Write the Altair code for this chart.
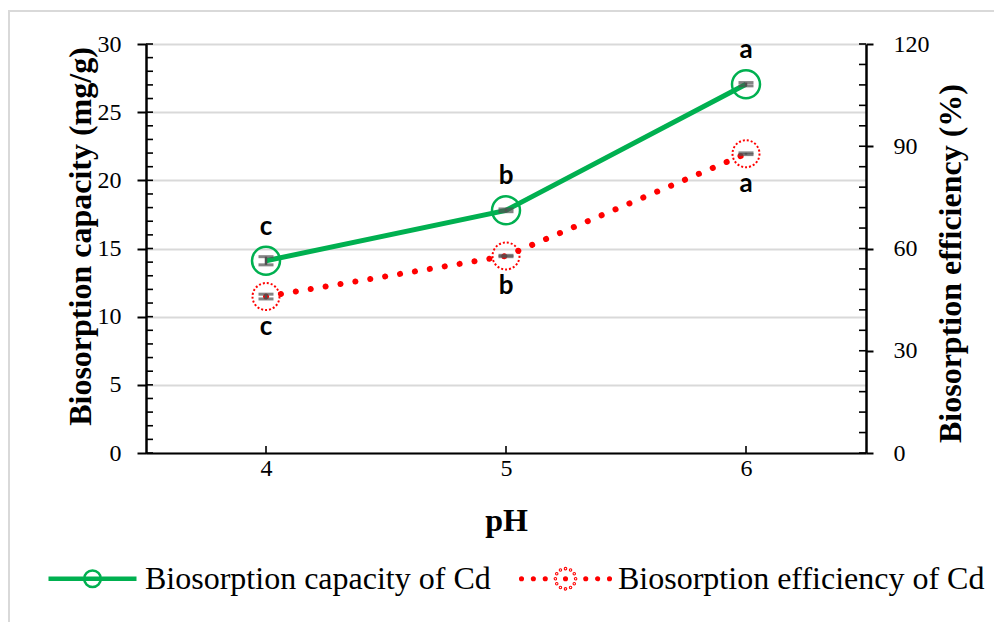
import altair as alt
import pandas as pd
import math

# ---------------- data ----------------
ph = ["4", "5", "6"]
capacity = [14.1, 17.8, 27.05]          # mg/g (left axis)
capacity_err = [0.3, 0.1, 0.12]
efficiency = [45.9, 57.8, 87.8]         # % (right axis)
efficiency_err = [0.7, 0.2, 0.25]
cap_letters = ["c", "b", "a"]
eff_letters = ["c", "b", "a"]
series = ["Biosorption capacity of Cd", "Biosorption efficiency of Cd"]
left_ticks = [0, 5, 10, 15, 20, 25, 30]
right_ticks = [0, 30, 60, 90, 120]
left_minor = list(range(0, 31, 1))
right_minor = list(range(0, 121, 6))

GREEN = "#00b050"
RED = "#ff0000"
GRAY = "#505050"
SERIF = "Liberation Serif"

df = pd.DataFrame({
    "pH": ph,
    "capacity": capacity,
    "cap_lo": [v - e for v, e in zip(capacity, capacity_err)],
    "cap_hi": [v + e for v, e in zip(capacity, capacity_err)],
    "efficiency": efficiency,
    "eff_lo": [v - e for v, e in zip(efficiency, efficiency_err)],
    "eff_hi": [v + e for v, e in zip(efficiency, efficiency_err)],
    "cap_letter": cap_letters,
    "eff_letter": eff_letters,
})
left_minor_df = pd.DataFrame({"v": left_minor})
right_minor_df = pd.DataFrame({"v": right_minor})
legend_df = pd.DataFrame({"series": series})
frame_df = pd.DataFrame({"k": [0]})

# ---------------- legend symbols (style paths) ----------------
def dot(x, y, r):
    return f"M{x + r:.3f},{y:.3f}A{r},{r} 0 1 1 {x - r:.3f},{y:.3f}A{r},{r} 0 1 1 {x + r:.3f},{y:.3f}"

green_path = ("M-1,-0.025H1M-1,0.025H1"
              "M0.19,0A0.19,0.19 0 1 1 -0.19,0A0.19,0.19 0 1 1 0.19,0")
red_parts = [dot(sx * d, 0, 0.03) for d in (0.46, 0.73, 1.0) for sx in (-1, 1)]
red_parts += [dot(0.23 * math.cos(a * math.pi / 6), 0.23 * math.sin(a * math.pi / 6), 0.012)
              for a in range(12)]
red_parts.append(dot(0, 0, 0.03))
red_path = "".join(red_parts)

# ---------------- encodings ----------------
x_axis = alt.Axis(
    ticks=False, domainColor="black", domainWidth=2, grid=False,
    labelFont=SERIF, labelFontSize=24, labelColor="black", labelPadding=3,
    labelAngle=0, title="pH", titleFont=SERIF, titleFontSize=32,
    titleFontWeight="bold", titleColor="black", titleY=67, titleBaseline="middle",
)
x_enc = alt.X("pH:N", scale=alt.Scale(type="point", padding=0.5), axis=x_axis, title="pH")

left_title = "Biosorption capacity (mg/g)"
right_title = "Biosorption efficiency (%)"
left_axis = alt.Axis(
    orient="left", values=left_ticks, tickSize=9, tickWidth=2, tickColor="black",
    domainColor="black", domainWidth=2.5, grid=True, gridColor="#d9d9d9", gridWidth=2,
    labelFont=SERIF, labelFontSize=24, labelColor="black", labelPadding=16,
    title=left_title, titleFont=SERIF, titleFontSize=32, titleFontWeight="bold",
    titleColor="black", titleAngle=270, titleX=-66, titleY=192,
    titleBaseline="middle", titleAlign="center",
)
right_axis = alt.Axis(
    orient="right", values=right_ticks, tickSize=7, tickWidth=2, tickColor="black",
    domainColor="black", domainWidth=2.5, grid=False,
    labelFont=SERIF, labelFontSize=24, labelColor="black", labelPadding=20,
    title=right_title, titleFont=SERIF, titleFontSize=32, titleFontWeight="bold",
    titleColor="black", titleAngle=270, titleX=84, titleY=219,
    titleBaseline="middle", titleAlign="center",
)
lscale = alt.Scale(domain=[0, 30], nice=False, zero=True)
rscale = alt.Scale(domain=[0, 120], nice=False, zero=True)


def ly(field):
    return alt.Y(f"{field}:Q", scale=lscale, axis=left_axis, title=left_title)


def ry(field):
    return alt.Y(f"{field}:Q", scale=rscale, axis=right_axis, title=right_title)


base = alt.Chart(df)

# ---------------- left group ----------------
frame = alt.Chart(frame_df).mark_rect(fillOpacity=0, stroke="#d9d9d9", strokeWidth=2).encode(
    x=alt.value(-137), x2=alt.value(1000), y=alt.value(-33), y2=alt.value(700)
)
left_inner_ticks = alt.Chart(left_minor_df).mark_rule(color="black", strokeWidth=1.6).encode(
    y=ly("v"), x=alt.value(0), x2=alt.value(7)
)
x_inner_ticks = base.mark_rule(color="black", strokeWidth=1.6).encode(
    x=x_enc, y=alt.value(409), y2=alt.value(402)
)
g_line = base.mark_line(color=GREEN, strokeWidth=5).encode(x=x_enc, y=ly("capacity"))
g_pts = base.mark_point(shape="circle", filled=False, size=784, color=GREEN, strokeWidth=2.5,
                        opacity=1).encode(x=x_enc, y=ly("capacity"))
g_err = base.mark_rule(color=GRAY, strokeWidth=2.5).encode(x=x_enc, y=ly("cap_lo"), y2="cap_hi:Q")
g_cap_lo = base.mark_tick(color=GRAY, size=15, thickness=3, orient="horizontal").encode(x=x_enc, y=ly("cap_lo"))
g_cap_hi = base.mark_tick(color=GRAY, size=15, thickness=3, orient="horizontal").encode(x=x_enc, y=ly("cap_hi"))
g_text = base.mark_text(font="Lato", fontWeight="bold", fontSize=26, color="black", dy=-34).encode(
    x=x_enc, y=ly("capacity"), text="cap_letter:N"
)

legend_cfg = alt.Legend(
    title=None, orient="none", legendX=-99, legendY=489, direction="horizontal",
    labelFont=SERIF, labelFontSize=32, labelColor="black", labelLimit=0,
    symbolSize=7744, symbolStrokeWidth=2.5, labelOffset=7, columnPadding=24, padding=0,
)
legend_layer = alt.Chart(legend_df).mark_point(filled=False, size=7744, strokeWidth=2.5, opacity=1).encode(
    color=alt.Color("series:N", scale=alt.Scale(domain=series, range=[GREEN, RED]), legend=legend_cfg),
    shape=alt.Shape("series:N", scale=alt.Scale(domain=series, range=[green_path, red_path]), legend=legend_cfg),
).transform_filter("false")

left_group = alt.layer(frame, left_inner_ticks, x_inner_ticks, g_line, g_pts, g_err, g_cap_lo, g_cap_hi,
                       g_text, legend_layer)

# ---------------- right group ----------------
right_inner_ticks = alt.Chart(right_minor_df).mark_rule(color="black", strokeWidth=1.6).encode(
    y=ry("v"), x=alt.value(713), x2=alt.value(720)
)
r_line = base.mark_line(color=RED, strokeWidth=6, strokeDash=[0.1, 15], strokeCap="round").encode(
    x=x_enc, y=ry("efficiency")
)
r_pts = base.mark_point(shape="circle", filled=False, size=729, color=RED, strokeWidth=2,
                        strokeDash=[2, 2], opacity=1).encode(x=x_enc, y=ry("efficiency"))
r_err = base.mark_rule(color=GRAY, strokeWidth=2.5).encode(x=x_enc, y=ry("eff_lo"), y2="eff_hi:Q")
r_cap_lo = base.mark_tick(color=GRAY, size=15, thickness=3, orient="horizontal").encode(x=x_enc, y=ry("eff_lo"))
r_cap_hi = base.mark_tick(color=GRAY, size=15, thickness=3, orient="horizontal").encode(x=x_enc, y=ry("eff_hi"))
r_text = base.mark_text(font="Lato", fontWeight="bold", fontSize=26, color="black", dy=30).encode(
    x=x_enc, y=ry("efficiency"), text="eff_letter:N"
)
right_group = alt.layer(right_inner_ticks, r_line, r_pts, r_err, r_cap_lo, r_cap_hi, r_text)

chart = alt.layer(left_group, right_group).resolve_scale(y="independent").properties(
    width=720, height=409,
    autosize=alt.AutoSizeParams(type="none"),
    padding={"left": 138, "top": 36, "right": 128, "bottom": 169},
    background="white",
).configure_view(stroke=None)

chart.save("out.html", embed_options={"renderer": "svg", "actions": False})
